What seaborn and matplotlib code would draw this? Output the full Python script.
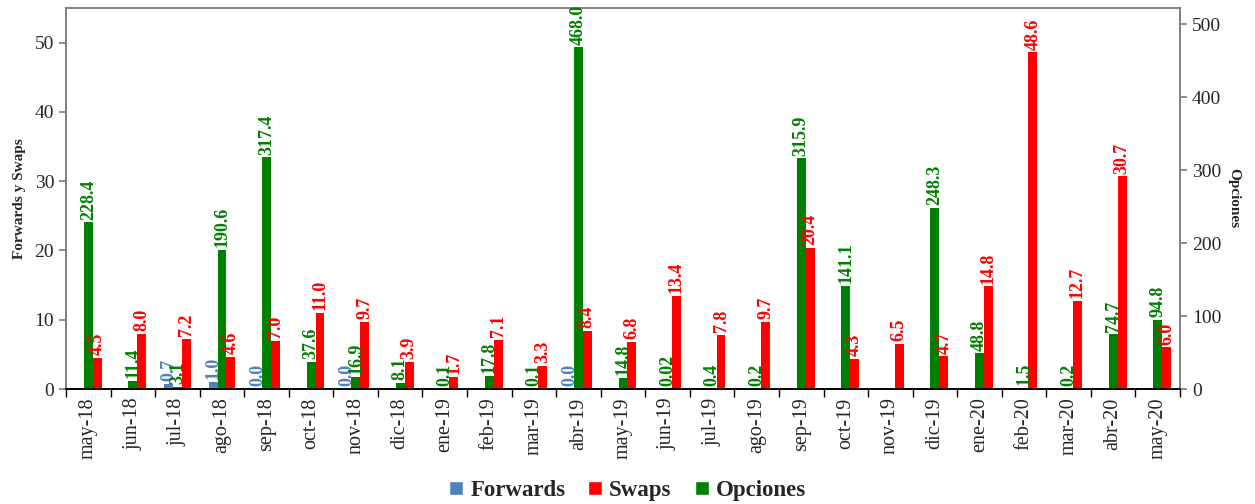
import numpy as np
import pandas as pd
import matplotlib
matplotlib.use("Agg")
import matplotlib.pyplot as plt
import seaborn as sns
from matplotlib.patches import Patch
from matplotlib.ticker import FixedLocator

nan = np.nan
meses = ["may-18", "jun-18", "jul-18", "ago-18", "sep-18", "oct-18", "nov-18", "dic-18",
         "ene-19", "feb-19", "mar-19", "abr-19", "may-19", "jun-19", "jul-19", "ago-19",
         "sep-19", "oct-19", "nov-19", "dic-19", "ene-20", "feb-20", "mar-20", "abr-20", "may-20"]
forwards = [nan, 0.1, 0.7, 1.0, 0.0, 0.1, 0.0, nan,
            nan, nan, nan, 0.0, nan, nan, nan, nan,
            nan, nan, nan, nan, nan, nan, nan, nan, nan]
forwards_etiqueta = [False, False, True, True, True, False, True, False,
                     False, False, False, True, False, False, False, False,
                     False, False, False, False, False, False, False, False, False]
swaps = [4.5, 8.0, 7.2, 4.6, 7.0, 11.0, 9.7, 3.9,
         1.7, 7.1, 3.3, 8.4, 6.8, 13.4, 7.8, 9.7,
         20.4, 4.3, 6.5, 4.7, 14.8, 48.6, 12.7, 30.7, 6.0]
opciones = [228.4, 11.4, 3.1, 190.6, 317.4, 37.6, 16.9, 8.1,
            0.1, 17.8, 0.1, 468.0, 14.8, 0.02, 0.4, 0.2,
            315.9, 141.1, nan, 248.3, 48.8, 1.5, 0.2, 74.7, 94.8]

colores = {"Forwards": "#4F81BD", "Opciones": "#008000", "Swaps": "#FF0000"}
orden_series = ["Forwards", "Opciones", "Swaps"]

sns.set_theme(style="white")
plt.rcParams["font.family"] = ["Liberation Serif", "DejaVu Serif"]

filas_izq = []
for m, f in zip(meses, forwards):
    if not np.isnan(f):
        filas_izq.append({"mes": m, "serie": "Forwards", "valor": f})
for m, s in zip(meses, swaps):
    filas_izq.append({"mes": m, "serie": "Swaps", "valor": s})
df_izq = pd.DataFrame(filas_izq)
df_der = pd.DataFrame([{"mes": m, "serie": "Opciones", "valor": o}
                       for m, o in zip(meses, opciones) if not np.isnan(o)])

fig = plt.figure(figsize=(12.55, 5.04), dpi=100)
ax = fig.add_axes([66 / 1255, 1 - 389 / 504, (1180 - 66) / 1255, (389 - 8) / 504])
ax2 = ax.twinx()

sns.barplot(data=df_izq, x="mes", y="valor", hue="serie", order=meses,
            hue_order=orden_series, palette=colores, width=0.6, errorbar=None,
            saturation=1, legend=False, dodge=True, ax=ax)
sns.barplot(data=df_der, x="mes", y="valor", hue="serie", order=meses,
            hue_order=orden_series, palette=colores, width=0.6, errorbar=None,
            saturation=1, legend=False, dodge=True, ax=ax2)
for a in (ax, ax2):
    for p in a.patches:
        p.set_edgecolor("none")

ax.set_ylim(0, 55)
ax2.set_ylim(0, 522)
ax.set_xlim(-0.5, len(meses) - 0.5)

fs_lab = 13
# all value labels drawn on the top axes so they sit above every bar
for p in ax.patches:
    h = p.get_height()
    if h is None or np.isnan(h):
        continue
    cx = p.get_x() + p.get_width() / 2
    i = int(round(cx))
    if cx - i < -0.05:
        if not forwards_etiqueta[i]:
            continue
        txt, col = f"{forwards[i]:.1f}", colores["Forwards"]
    else:
        txt, col = f"{swaps[i]:.1f}", colores["Swaps"]
    ax2.annotate(txt, (cx, h), xycoords=ax.transData, xytext=(0, 2),
                 textcoords="offset points", rotation=90, ha="center", va="bottom",
                 color=col, fontsize=fs_lab, fontweight="bold", zorder=5)
for p in ax2.patches:
    h = p.get_height()
    if h is None or np.isnan(h):
        continue
    cx = p.get_x() + p.get_width() / 2
    i = int(round(cx))
    v = opciones[i]
    txt = f"{v:.2f}" if v < 0.05 else f"{v:.1f}"
    ax2.annotate(txt, (cx, h), xytext=(0, 2), textcoords="offset points",
                 rotation=90, ha="center", va="bottom", color=colores["Opciones"],
                 fontsize=fs_lab, fontweight="bold", zorder=5)

ax.set_xlabel("")
ax.set_ylabel("Forwards y Swaps", fontsize=11, fontweight="bold", labelpad=6)
ax2.set_xlabel("")
ax2.set_ylabel("Opciones", fontsize=11, fontweight="bold", rotation=270, labelpad=14)
ax.set_yticks([0, 10, 20, 30, 40, 50])
ax2.set_yticks([0, 100, 200, 300, 400, 500])
ax.tick_params(axis="y", labelsize=14, direction="out", length=5, color="#808080", left=True)
ax2.tick_params(axis="y", labelsize=14, direction="out", length=5, color="#808080", right=True)
ax.set_xticks(range(len(meses)))
ax.set_xticklabels(meses, rotation=90, fontsize=14.5)
ax.tick_params(axis="x", which="major", length=0, pad=6)
ax.xaxis.set_minor_locator(FixedLocator(np.arange(-0.5, len(meses), 1.0)))
ax.tick_params(axis="x", which="minor", length=6, direction="out", color="black", bottom=True)

for a in (ax, ax2):
    for s in ("top", "left", "right"):
        a.spines[s].set_color("#808080")
        a.spines[s].set_linewidth(1.2)
    a.spines["bottom"].set_color("black")
    a.spines["bottom"].set_linewidth(1.2)

handles = [Patch(facecolor=colores[k], label=k) for k in ["Forwards", "Swaps", "Opciones"]]
fig.legend(handles=handles, loc="lower center", bbox_to_anchor=(0.5, -0.035), ncol=3,
           frameon=False, prop={"size": 16.5, "weight": "bold"},
           handlelength=0.62, handleheight=0.62, handletextpad=0.3, columnspacing=1.0)

fig.savefig("out.png", dpi=100)
